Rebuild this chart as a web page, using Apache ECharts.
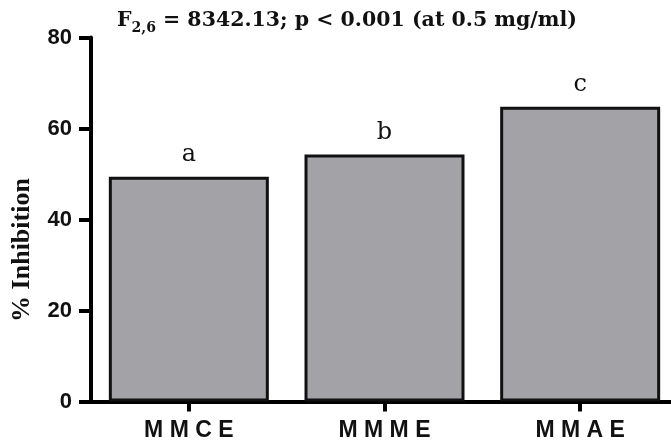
<!DOCTYPE html>
<html>
<head>
<meta charset="utf-8">
<script src="https://cdn.jsdelivr.net/npm/echarts@6/dist/echarts.min.js"></script>
<style>
html,body{margin:0;padding:0;background:#fff;}
#chart{width:671px;height:440px;}
</style>
</head>
<body>
<div id="chart"></div>
<script>
const categories = ['MMCE', 'MMME', 'MMAE'];
const inhibition = [49.4, 54.3, 64.8];
const sigLetters = ['a', 'b', 'c'];
const yTicks = { min: 0, max: 80, interval: 20 };
const yAxisTitle = '% Inhibition';

const chart = echarts.init(document.getElementById('chart'), null, { renderer: 'canvas' });
chart.setOption({
  backgroundColor: '#ffffff',
  animation: false,
  title: {
    text: '{m|F}{s|2,6}{m| = 8342.13; p < 0.001 (at 0.5 mg/ml)}',
    left: 117,
    top: 7,
    padding: 0,
    textStyle: {
      rich: {
        m: { fontFamily: 'DejaVu Serif', fontWeight: 'bold', fontSize: 20.5, lineHeight: 28, color: '#111' },
        s: { fontFamily: 'DejaVu Serif', fontWeight: 'bold', fontSize: 14, lineHeight: 14, verticalAlign: 'bottom', color: '#111' }
      }
    }
  },
  graphic: [{
    type: 'text',
    x: 22,
    y: 250,
    rotation: Math.PI / 2,
    style: {
      text: yAxisTitle,
      font: 'bold 26px "Liberation Serif"',
      fill: '#111',
      textAlign: 'center',
      textVerticalAlign: 'middle'
    }
  }],
  grid: {
    left: 91,
    right: -7,
    top: 37.5,
    bottom: 38.5,
    containLabel: false,
    outerBoundsMode: 'none'
  },
  xAxis: {
    type: 'category',
    data: categories,
    axisLine: { show: true, lineStyle: { color: '#000', width: 4 } },
    axisTick: { show: true, alignWithLabel: true, length: 10, lineStyle: { color: '#000', width: 4 } },
    axisLabel: {
      margin: 18,
      fontFamily: 'Liberation Sans',
      fontWeight: 'bold',
      fontSize: 23,
      color: '#111',
      formatter: v => v.split('').join(' ')
    },
    splitLine: { show: false }
  },
  yAxis: {
    type: 'value',
    min: yTicks.min,
    max: yTicks.max,
    interval: yTicks.interval,
    axisLine: { show: true, lineStyle: { color: '#000', width: 4 } },
    axisTick: { show: true, length: 12, lineStyle: { color: '#000', width: 4 } },
    axisLabel: {
      margin: 19,
      fontFamily: 'Liberation Sans',
      fontWeight: 'bold',
      fontSize: 22,
      color: '#111'
    },
    splitLine: { show: false }
  },
  series: [{
    type: 'bar',
    data: inhibition,
    barWidth: 160,
    itemStyle: { color: '#a3a2a7', borderColor: '#111', borderWidth: 3 },
    label: {
      show: true,
      position: 'top',
      distance: 10,
      fontFamily: 'DejaVu Serif',
      fontSize: 24,
      color: '#111',
      formatter: p => sigLetters[p.dataIndex]
    }
  }]
});
</script>
</body>
</html>
